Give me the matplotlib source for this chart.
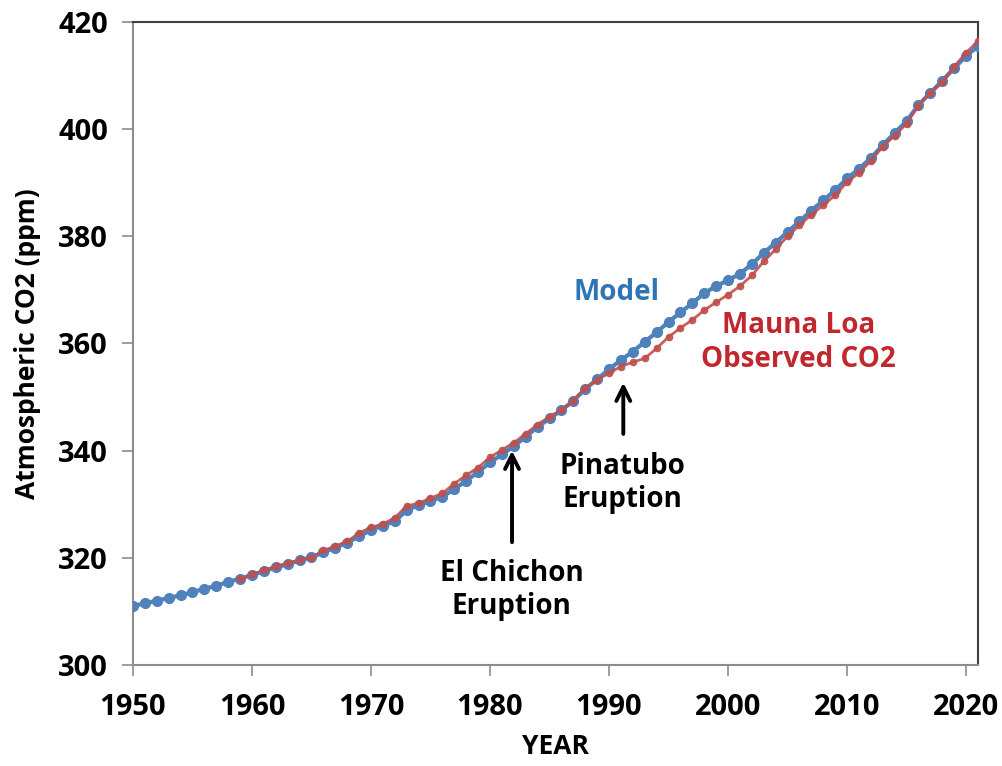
import numpy as np
import matplotlib
matplotlib.use("Agg")
import matplotlib.pyplot as plt

plt.rcParams['font.family'] = ['Open Sans', 'DejaVu Sans']

# model run, 1950-2021
model_years = np.arange(1950, 2022)
model_co2 = [311.0, 311.5, 312.0, 312.5, 313.0, 313.6, 314.2, 314.8, 315.5, 316.1,
             316.8, 317.5, 318.2, 318.8, 319.5, 320.1, 321.0, 321.9, 322.8, 324.0,
             325.2, 326.0, 326.8, 328.9, 329.8, 330.6, 331.4, 332.8, 334.4, 336.0,
             337.8, 339.3, 340.8, 342.6, 344.4, 346.0, 347.5, 349.3, 351.5, 353.3,
             355.2, 356.9, 358.5, 360.3, 362.1, 364.0, 365.8, 367.5, 369.4, 370.7,
             371.8, 373.0, 374.8, 376.9, 378.8, 380.8, 382.8, 384.8, 386.7, 388.6,
             390.8, 392.6, 394.6, 397.0, 399.3, 401.5, 404.5, 406.8, 409.0, 411.4,
             413.6, 415.5]

# Mauna Loa observed, 1959-2021
obs_years = np.arange(1959, 2022)
obs_co2 = [315.98, 316.91, 317.64, 318.45, 318.99, 319.62, 320.04, 321.37, 322.18, 323.05,
           324.62, 325.68, 326.32, 327.46, 329.68, 330.19, 331.13, 332.03, 333.84, 335.41,
           336.84, 338.76, 340.12, 341.48, 343.15, 344.87, 346.35, 347.61, 349.31, 351.69,
           353.20, 354.45, 355.70, 356.54, 357.21, 359.1, 361.2, 362.9, 364.4, 366.2,
           367.7, 369.1, 370.7, 372.7, 375.3, 377.6, 379.98, 382.09, 384.02, 385.83,
           387.64, 390.10, 391.85, 394.06, 396.74, 398.81, 401.01, 404.41, 406.76, 408.72,
           411.66, 414.24, 416.45]

blue = '#4F81BD'
red = '#C0504D'

fig = plt.figure(figsize=(10.02, 7.66), dpi=100)
ax = fig.add_axes([0.1327, 0.1319, 0.8433, 0.8394])

ax.plot(model_years, model_co2, color=blue, lw=3, marker='o', ms=7, zorder=3)
ax.plot(obs_years, obs_co2, color=red, lw=2, marker='o', ms=4.5, alpha=0.9, zorder=4)

ax.set_xlim(1950, 2021)
ax.set_ylim(300, 420)
ax.set_xticks(range(1950, 2021, 10))
ax.set_yticks(range(300, 421, 20))

for s in ['left', 'bottom']:
    ax.spines[s].set_color('#8c8c8c')
    ax.spines[s].set_linewidth(1.5)
for s in ['top', 'right']:
    ax.spines[s].set_color('#404040')
    ax.spines[s].set_linewidth(1.5)

ax.tick_params(axis='both', direction='out', length=8, width=1.2, color='#8c8c8c',
               labelsize=21)
ax.tick_params(axis='y', pad=10)
ax.tick_params(axis='x', pad=12)
for lab in ax.get_xticklabels() + ax.get_yticklabels():
    lab.set_fontweight('bold')

ax.set_xlabel('YEAR', fontsize=19, fontweight='bold', labelpad=8)
ax.set_ylabel('Atmospheric CO2 (ppm)', fontsize=19, fontweight='bold', labelpad=12)

ax.text(1990.6, 369.5, 'Model', color='#2E75B6', fontsize=20, fontweight='bold',
        ha='center', va='center')
ax.text(2005.9, 360.2, 'Mauna Loa\nObserved CO2', color='#C0282D', fontsize=20,
        fontweight='bold', ha='center', va='center', linespacing=1.2)
ax.text(1991.1, 334.0, 'Pinatubo\nEruption', color='black', fontsize=20,
        fontweight='bold', ha='center', va='center', linespacing=1.2)
ax.text(1981.8, 314.0, 'El Chichon\nEruption', color='black', fontsize=20,
        fontweight='bold', ha='center', va='center', linespacing=1.2)

arrow = dict(arrowstyle='->', color='black', lw=2.8, mutation_scale=25)
ax.annotate('', xy=(1991.2, 353.2), xytext=(1991.2, 342.6), arrowprops=arrow)
ax.annotate('', xy=(1981.85, 340.5), xytext=(1981.85, 322.4), arrowprops=arrow)

fig.savefig('out.png', dpi=100)
